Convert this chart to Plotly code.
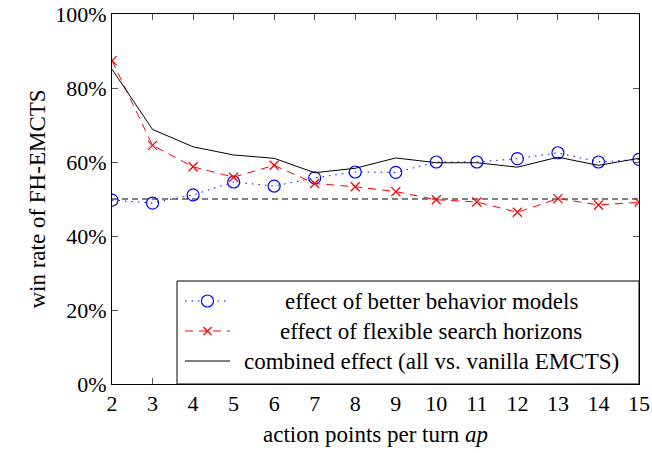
import plotly.graph_objects as go

ap = [2, 3, 4, 5, 6, 7, 8, 9, 10, 11, 12, 13, 14, 15]
behavior = [49.7, 48.9, 51.1, 54.6, 53.5, 55.7, 57.3, 57.2, 60.0, 60.0, 60.9, 62.5, 60.0, 60.7]
horizons = [87.4, 64.5, 58.7, 55.9, 59.1, 54.2, 53.3, 52.0, 49.8, 49.2, 46.4, 50.1, 48.4, 49.1]
combined = [85.1, 68.8, 64.1, 61.9, 61.0, 57.1, 58.3, 61.1, 59.8, 59.8, 58.6, 61.3, 59.1, 61.0]
baseline = [50] * len(ap)
ytick_vals = [0, 20, 40, 60, 80, 100]
ytick_text = ["0%", "20%", "40%", "60%", "80%", "100%"]
labels = ["effect of better behavior models",
          "effect of flexible search horizons",
          "combined effect (all vs. vanilla EMCTS)"]

FONT = "Liberation Serif, DejaVu Serif, serif"
DOT = "1.5px,5px"
DASH = "8px,6px"
fig = go.Figure()
fig.add_trace(go.Scatter(x=ap, y=baseline, mode="lines",
                         line=dict(color="black", width=1, dash="6px,4px"), showlegend=False))
fig.add_trace(go.Scatter(x=ap, y=behavior, mode="lines+markers", name=labels[0],
                         line=dict(color="#0000ff", width=1, dash=DOT),
                         marker=dict(symbol="circle-open", size=12, color="#0000ff", line=dict(width=1.2))))
fig.add_trace(go.Scatter(x=ap, y=horizons, mode="lines+markers", name=labels[1],
                         line=dict(color="#ff0000", width=1, dash=DASH),
                         marker=dict(symbol="x-thin-open", size=9, color="#ff0000", line=dict(width=1.3, color="#ff0000"))))
fig.add_trace(go.Scatter(x=ap, y=combined, mode="lines", name=labels[2],
                         line=dict(color="black", width=1)))

# custom legend (centered text like the reference)
L, R, T, B = 112, 639, 14, 384
def px(x):
    return (x - L) / (R - L)
def py(y):
    return (B - y) / (B - T)

shapes = [dict(type="rect", xref="paper", yref="paper", x0=px(177), x1=px(639), y0=py(384), y1=py(281),
               line=dict(color="black", width=1), fillcolor="white", layer="above")]
rows = [301, 331, 361]
styles = [("#0000ff", DOT), ("#ff0000", DASH), ("black", "solid")]
annotations = []
for i, (c, d) in enumerate(styles):
    shapes.append(dict(type="line", xref="paper", yref="paper", x0=px(185), x1=px(230),
                       y0=py(rows[i]), y1=py(rows[i]), line=dict(color=c, width=1, dash=d), layer="above"))
    annotations.append(dict(xref="paper", yref="paper", x=px(431), y=py(rows[i]), text=labels[i],
                            showarrow=False, xanchor="center", yanchor="middle",
                            font=dict(family=FONT, size=23, color="black")))
shapes.append(dict(type="circle", xref="paper", yref="paper", x0=px(201.5), x1=px(213.5),
                   y0=py(rows[0] + 6), y1=py(rows[0] - 6), line=dict(color="#0000ff", width=1.2),
                   fillcolor="white", layer="above"))
for a, b in [(-4, 4), (4, -4)]:
    shapes.append(dict(type="line", xref="paper", yref="paper", x0=px(207.5 - 4), x1=px(207.5 + 4),
                       y0=py(rows[1] + a), y1=py(rows[1] + b), line=dict(color="#ff0000", width=1.3), layer="above"))

fig.update_layout(
    width=652, height=453, autosize=False,
    margin=dict(l=L, r=652 - R, t=T, b=453 - B, autoexpand=False),
    plot_bgcolor="white", paper_bgcolor="white",
    showlegend=False,
    font=dict(family=FONT, size=22, color="black"),
    shapes=shapes, annotations=annotations,
    xaxis=dict(range=[2, 15], tickmode="array", tickvals=ap, showline=True, linecolor="black", linewidth=1,
               mirror="ticks", ticks="inside", ticklen=6, tickcolor="#555", showgrid=False, zeroline=False,
               ticklabeloverflow="allow", automargin=False,
               title=dict(text="action points per turn <i>ap</i>", font=dict(family=FONT, size=23, color="black"), standoff=10),
               tickfont=dict(family=FONT, size=22, color="black")),
    yaxis=dict(range=[0, 100], tickmode="array", tickvals=ytick_vals, ticktext=ytick_text, showline=True,
               linecolor="black", linewidth=1, mirror="ticks", ticks="inside", ticklen=6, tickcolor="#555",
               showgrid=False, zeroline=False, ticklabeloverflow="allow", automargin=False,
               title=dict(text="win rate of FH-EMCTS", font=dict(family=FONT, size=23, color="black"), standoff=3),
               tickfont=dict(family=FONT, size=22, color="black")),
)
fig.write_html("out.html", config={"displayModeBar": False},
               post_script="document.body.style.margin='0';document.body.style.overflow='hidden';")
